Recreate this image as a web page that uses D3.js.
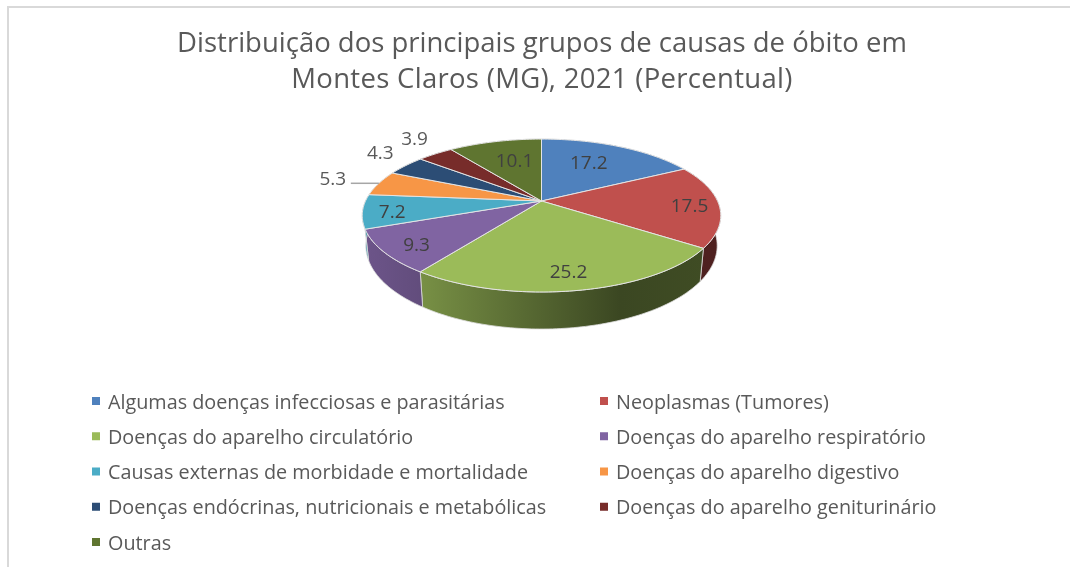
<!DOCTYPE html>
<html>

<head>
  <meta charset="UTF-8" />
  <title>Causas de óbito</title>
  <script src="https://d3js.org/d3.v7.min.js"></script>
  <style>
    body { margin: 0; background: #fff; }
    text { font-family: "Open Sans", sans-serif; }
    /* the reference is a soft, slightly scaled screenshot */
    svg { filter: blur(0.4px); }
  </style>
</head>

<body>
  <div id="chart"></div>

  <script>
    const categories = [
      "Algumas doenças infecciosas e parasitárias",
      "Neoplasmas (Tumores)",
      "Doenças do aparelho circulatório",
      "Doenças do aparelho respiratório",
      "Causas externas de morbidade e mortalidade",
      "Doenças do aparelho digestivo",
      "Doenças endócrinas, nutricionais e metabólicas",
      "Doenças do aparelho geniturinário",
      "Outras"
    ];
    const values = [17.2, 17.5, 25.2, 9.3, 7.2, 5.3, 4.3, 3.9, 10.1];
    const colors = ["#4f81bd", "#c0504d", "#9bbb59", "#8064a2", "#4bacc6", "#f79646", "#2c4d75", "#772c2a", "#5f7530"];
    const titleLines = [
      "Distribuição dos principais grupos de causas de óbito em",
      "Montes Claros (MG), 2021 (Percentual)"
    ];

    const width = 1070, height = 567;
    const svg = d3.select("#chart").append("svg")
      .attr("width", width)
      .attr("height", height)
      .style("display", "block");

    // frame, only top and left are inside the screenshot
    svg.append("path")
      .attr("d", "M8 567V7H1070")
      .attr("fill", "none")
      .attr("stroke", "#d9d9d9")
      .attr("stroke-width", 2);

    svg.selectAll(".title")
      .data(titleLines)
      .enter()
      .append("text")
      .attr("class", "title")
      .attr("x", 542)
      .attr("y", (d, i) => 52 + i * 36)
      .attr("text-anchor", "middle")
      .attr("font-size", 27.5)
      .attr("letter-spacing", (d, i) => i ? 0.3 : 0)
      .attr("fill", "#595959")
      .text(d => d);

    // perspective pie, fitted on the reference: apex, radii, tilt
    const cx = 541.5, cy = 201, rx = 176, ry = 73.7, tilt = 0.19;
    const bottomScale = 0.98, bottomRy = 80.3, bottomDrop = 28.9;

    function project(a, r) {
      const u = Math.sin(a) * r, v = -Math.cos(a) * r, w = 1 - tilt * v;
      return [cx + rx * u / w, cy + ry * v / w];
    }
    function projectBottom(a) {
      const u = Math.sin(a), v = -Math.cos(a), w = 1 - tilt * v;
      return [cx + bottomScale * rx * u / w, cy + bottomDrop + bottomRy * v / w];
    }

    const pie = d3.pie().sort(null).value(d => d);
    const arcs = pie(values);
    const line = d3.line();

    function arcAngles(d) {
      const n = Math.ceil((d.endAngle - d.startAngle) / 0.02);
      return d3.range(n + 1).map(i => d.startAngle + (d.endAngle - d.startAngle) * i / n);
    }

    // wall shading runs left to right over the whole pie
    const wallStops = [[0, 0.85], [0.18, 0.76], [0.72, 0.38], [1, 0.41]];
    const defs = svg.append("defs");
    colors.forEach((c, i) => {
      const g = defs.append("linearGradient")
        .attr("id", "wall" + i)
        .attr("gradientUnits", "userSpaceOnUse")
        .attr("x1", 362).attr("x2", 720)
        .attr("y1", 0).attr("y2", 0);
      const base = d3.rgb(c);
      wallStops.forEach(s => {
        g.append("stop")
          .attr("offset", s[0])
          .attr("stop-color", d3.rgb(base.r * s[1], base.g * s[1], base.b * s[1]).formatHex());
      });
    });

    // walls back to front, the top face hides whatever is behind
    svg.append("g").selectAll("path")
      .data(arcs)
      .enter()
      .append("path")
      .attr("d", d => {
        const angles = arcAngles(d);
        return line(angles.map(a => project(a, 1)).concat(angles.slice().reverse().map(projectBottom))) + "Z";
      })
      .attr("fill", d => "url(#wall" + d.index + ")")
      .attr("stroke", "#dcdcdc")
      .attr("stroke-width", 0.8);

    svg.append("g").selectAll("path")
      .data(arcs)
      .enter()
      .append("path")
      .attr("d", d => line([[cx, cy]].concat(arcAngles(d).map(a => project(a, 1)))) + "Z")
      .attr("fill", d => colors[d.index])
      .attr("stroke", "#e4e4e4")
      .attr("stroke-width", 1);

    // label placement: radius along the slice middle, then a nudge like Excel's best fit
    const labelRadius = [0.65, 0.65, 0.65, 0.65, 0.65, 1.15, 1.15, 1.15, 0.65];
    const labelNudge = [[-6, -2], [33, 1], [5, 16], [-27, 11], [-34, 3], [-23, -3], [-7, -8.5], [-7, -10], [5, 0]];
    const outside = r => r > 1;

    function labelPos(d) {
      const p = project((d.startAngle + d.endAngle) / 2, labelRadius[d.index]);
      return [p[0] + labelNudge[d.index][0], p[1] + labelNudge[d.index][1]];
    }

    // leader line of the 5.3 label
    const leader = arcs[5];
    const leaderEnd = project((leader.startAngle + leader.endAngle) / 2, 1);
    svg.append("path")
      .attr("d", line([[labelPos(leader)[0] + 18, leaderEnd[1]], leaderEnd]))
      .attr("fill", "none")
      .attr("stroke", "#a6a6a6")
      .attr("stroke-width", 1.5);

    svg.append("g").selectAll("text")
      .data(arcs)
      .enter()
      .append("text")
      .attr("x", d => labelPos(d)[0])
      .attr("y", d => labelPos(d)[1])
      .attr("text-anchor", "middle")
      .attr("dominant-baseline", "central")
      .attr("font-size", 19)
      .attr("fill", d => outside(labelRadius[d.index]) ? "#595959" : "#404040")
      .text(d => d.value.toFixed(1));

    // legend, two columns filled row by row
    const legendX = d3.scaleOrdinal().domain([0, 1]).range([92, 600]);
    const legendY = d3.scaleLinear().domain([0, 4]).range([401, 542]);

    const legend = svg.append("g").selectAll("g")
      .data(categories)
      .enter()
      .append("g")
      .attr("transform", (d, i) => "translate(" + legendX(i % 2) + "," + legendY(Math.floor(i / 2)) + ")");

    legend.append("rect")
      .attr("x", 0)
      .attr("y", -4)
      .attr("width", 8)
      .attr("height", 8)
      .attr("fill", (d, i) => colors[i]);

    legend.append("text")
      .attr("x", 16)
      .attr("dominant-baseline", "central")
      .attr("font-size", 19.8)
      .attr("fill", "#595959")
      .text(d => d);
  </script>
</body>

</html>
